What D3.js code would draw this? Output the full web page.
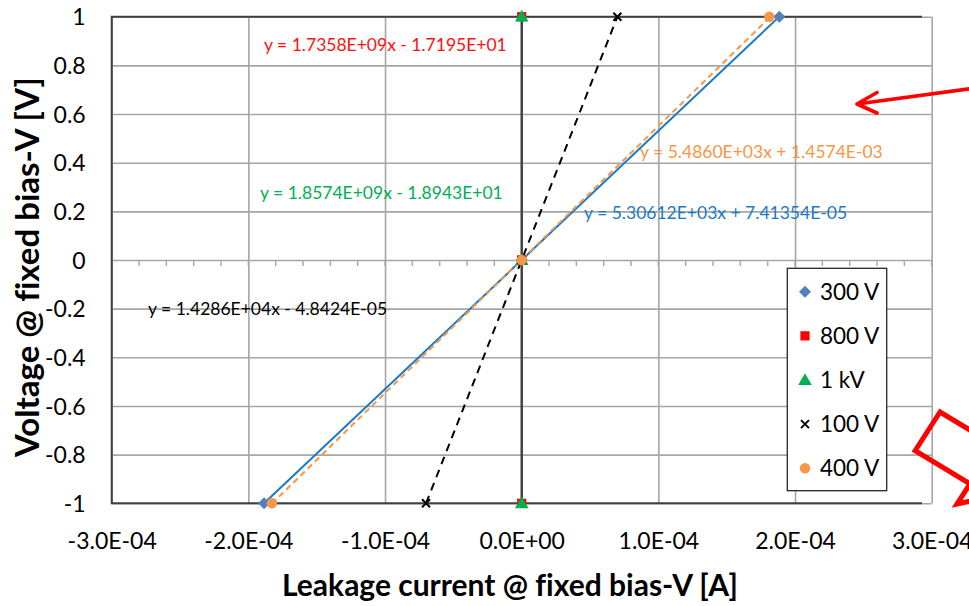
<!DOCTYPE html>
<html>
<head>
<meta charset="utf-8">
<script src="https://cdn.jsdelivr.net/npm/d3@7"></script>
<style>
  html, body { margin: 0; padding: 0; background: #ffffff; }
  svg { display: block; font-family: Lato, "Open Sans", sans-serif; font-variant-ligatures: none; }
</style>
</head>
<body>
<svg id="chart" width="969" height="606"></svg>
<script>
// Voltage applied at each point (shared by all series)
const voltage = [-1, 0, 1];

// Leakage current measured per bias setting [A]
const current300 = [-1.885e-4, 0, 1.885e-4];
const current800 = [9.330e-9, 9.906e-9, 1.0482e-8];
const current1k  = [9.660e-9, 1.0199e-8, 1.0737e-8];
const current100 = [-7.0e-5, 0, 7.0e-5];
const current400 = [-1.828e-4, 0, 1.812e-4];

const seriesNames = ["300 V", "800 V", "1 kV", "100 V", "400 V"];

// Linear trendline coefficients y = m*x + b and digits shown in the label
const fitSlopes     = [5.30612e3, 1.7358e9, 1.8574e9, 1.4286e4, 5.4860e3];
const fitIntercepts = [7.41354e-5, -1.7195e1, -1.8943e1, -4.8424e-5, 1.4574e-3];
const fitDigits     = [5, 4, 4, 4, 4];

// Axis ticks
const xTicks = [-3e-4, -2e-4, -1e-4, 0, 1e-4, 2e-4, 3e-4];
const yTicks = [-1, -0.8, -0.6, -0.4, -0.2, 0, 0.2, 0.4, 0.6, 0.8, 1];

const currents = [current300, current800, current1k, current100, current400];

// ---- styling / layout ----
const styles = [
  { marker: "diamond",  mcolor: "#4f81bd", lcolor: "#1a7ac6", dash: null,  tcolor: "#1a7ac6", lw: 2 },
  { marker: "square",   mcolor: "#ff0000", lcolor: "#ff0000", dash: null,  tcolor: "#ff1010", lw: 1.2 },
  { marker: "triangle", mcolor: "#00b050", lcolor: "#00b050", dash: null,  tcolor: "#00b050", lw: 1.2 },
  { marker: "cross",    mcolor: "#000000", lcolor: "#000000", dash: "8,6", tcolor: "#000000", lw: 2 },
  { marker: "circle",   mcolor: "#f79646", lcolor: "#f79646", dash: "6,4", tcolor: "#f79646", lw: 2 }
];
// equation label anchor (left x, middle y) in pixels
const eqPos = [[584, 213], [264, 45], [260, 193], [148, 309], [640, 152]];

const svg = d3.select("#chart");
const plotLeft = 111.7, plotRight = 931.7, plotTop = 16.7, plotBottom = 503.3;

const x = d3.scaleLinear().domain([-3e-4, 3e-4]).range([plotLeft, plotRight]);
const y = d3.scaleLinear().domain([-1, 1]).range([plotBottom, plotTop]);

// scientific format like 1.0E-04
function sci(v, d) {
  if (v === 0) return (0).toFixed(d) + "E+00";
  const s = v.toExponential(d).toUpperCase();
  const [mant, exp] = s.split("E");
  const sign = exp[0] === "-" ? "-" : "+";
  const digits = exp.replace(/[+-]/, "").padStart(2, "0");
  return mant + "E" + sign + digits;
}

const gridColor = "#a6a6a6";
const darkColor = "#404040";

// gridlines
svg.append("g")
  .attr("transform", `translate(0,${plotBottom})`)
  .call(d3.axisBottom(x).tickValues(xTicks).tickSize(-(plotBottom - plotTop)).tickFormat(""))
  .call(g => g.select(".domain").remove())
  .call(g => g.selectAll("line").attr("stroke", gridColor).attr("stroke-width", 1.6));

svg.append("g")
  .attr("transform", `translate(${plotLeft},0)`)
  .call(d3.axisLeft(y).tickValues(yTicks).tickSize(-(plotRight - plotLeft)).tickFormat(""))
  .call(g => g.select(".domain").remove())
  .call(g => g.selectAll("line").attr("stroke", gridColor).attr("stroke-width", 1.6));

// minor ticks on the horizontal zero axis
const minorTicks = d3.range(-15, 16).map(i => i * 2e-5);
svg.append("g").selectAll("line").data(minorTicks).join("line")
  .attr("x1", d => x(d)).attr("x2", d => x(d))
  .attr("y1", y(0)).attr("y2", y(0) + 6)
  .attr("stroke", gridColor).attr("stroke-width", 1.4);

// plot-area border (left, top, bottom)
const borderEnd = 922;
svg.append("path")
  .attr("d", `M${borderEnd},${plotTop}H${plotLeft}V${plotBottom}H${borderEnd}`)
  .attr("fill", "none").attr("stroke", darkColor).attr("stroke-width", 2);

// tick labels
const tickFont = 23;
svg.append("g")
  .attr("transform", `translate(0,${plotBottom})`)
  .call(d3.axisBottom(x).tickValues(xTicks).tickSize(0).tickFormat(d => sci(d, 1)))
  .call(g => g.select(".domain").remove())
  .call(g => g.selectAll("text")
    .attr("y", 38).attr("dy", "0.35em")
    .attr("font-size", tickFont).attr("font-family", "Lato, sans-serif").attr("fill", "#000"));

svg.append("g")
  .attr("transform", `translate(${plotLeft},0)`)
  .call(d3.axisLeft(y).tickValues(yTicks).tickSize(0).tickFormat(d => String(+d.toFixed(1))))
  .call(g => g.select(".domain").remove())
  .call(g => g.selectAll("text")
    .attr("x", -26).attr("dy", "0.35em")
    .attr("font-size", tickFont).attr("font-family", "Lato, sans-serif").attr("fill", "#000"));

// axis titles
svg.append("text")
  .attr("x", 510).attr("y", 585).attr("dy", "0.35em")
  .attr("text-anchor", "middle").attr("font-weight", "bold").attr("font-size", 30)
  .text("Leakage current @ fixed bias-V [A]");

svg.append("text")
  .attr("transform", "translate(27,267) rotate(-90)")
  .attr("dy", "0.35em")
  .attr("text-anchor", "middle").attr("font-weight", "bold").attr("font-size", 33)
  .text("Voltage @ fixed bias-V [V]");

// marker drawing helper
function drawMarker(sel, type, color, cx, cy) {
  const g = sel.append("g").attr("transform", `translate(${cx},${cy})`);
  if (type === "diamond") {
    g.append("path").attr("d", d3.symbol(d3.symbolSquare, 72)()).attr("transform", "rotate(45)").attr("fill", color);
  } else if (type === "square") {
    g.append("path").attr("d", d3.symbol(d3.symbolSquare, 85)()).attr("fill", color);
  } else if (type === "triangle") {
    g.append("path").attr("d", d3.symbol(d3.symbolTriangle, 80)()).attr("transform", "translate(0,1)").attr("fill", color);
  } else if (type === "circle") {
    g.append("circle").attr("r", 5.2).attr("fill", color);
  } else if (type === "cross") {
    g.append("path").attr("d", "M-4,-4L4,4M-4,4L4,-4").attr("stroke", color).attr("stroke-width", 2).attr("fill", "none");
  }
}

// trendlines over each series' current range
const lineLayer = svg.append("g");
currents.forEach((cur, i) => {
  const [x0, x1] = d3.extent(cur);
  const m = fitSlopes[i], b = fitIntercepts[i];
  lineLayer.append("line")
    .attr("x1", x(x0)).attr("y1", y(m * x0 + b))
    .attr("x2", x(x1)).attr("y2", y(m * x1 + b))
    .attr("stroke", styles[i].lcolor).attr("stroke-width", styles[i].lw)
    .attr("stroke-dasharray", styles[i].dash);
});

// vertical axis at zero current (drawn over the near-vertical fits)
svg.append("line")
  .attr("x1", x(0)).attr("x2", x(0)).attr("y1", plotTop).attr("y2", plotBottom)
  .attr("stroke", darkColor).attr("stroke-width", 2.4);

// series markers
const markLayer = svg.append("g");
currents.forEach((cur, i) => {
  cur.forEach((c, j) => drawMarker(markLayer, styles[i].marker, styles[i].mcolor, x(c), y(voltage[j])));
});

// trendline equations
currents.forEach((cur, i) => {
  const m = fitSlopes[i], b = fitIntercepts[i], d = fitDigits[i];
  const label = `y = ${sci(m, d)}x ${b < 0 ? "-" : "+"} ${sci(Math.abs(b), d)}`;
  svg.append("text")
    .attr("x", eqPos[i][0]).attr("y", eqPos[i][1]).attr("dy", "0.35em")
    .attr("font-size", 17.5).attr("fill", styles[i].tcolor)
    .text(label);
});

// legend
const lg = svg.append("g");
lg.append("rect")
  .attr("x", 787.3).attr("y", 268.3).attr("width", 99.4).attr("height", 222.4)
  .attr("fill", "#ffffff").attr("stroke", "#262626").attr("stroke-width", 1.3);
seriesNames.forEach((name, i) => {
  const cy = 291.7 + i * 44.15;
  drawMarker(lg, styles[i].marker, styles[i].mcolor, 805, cy);
  lg.append("text").attr("x", 820).attr("y", cy).attr("dy", "0.36em")
    .attr("font-size", 22.5).attr("fill", "#000").text(name);
});

// red call-out arrow pointing into the plot
const red = "#ff0000";
svg.append("path")
  .attr("d", "M975,88L857,104M877,92.5L857,104L877,113")
  .attr("fill", "none").attr("stroke", red).attr("stroke-width", 3.6)
  .attr("stroke-linecap", "round").attr("stroke-linejoin", "round");

// block arrow in the lower right corner
(function () {
  const A = [940, 412];
  const u = [0.856, 0.517];
  const n = [-0.54, 0.842];
  const w = 46, L = 64, wing = 24, head = 48;
  const p = (a, b) => [A[0] + u[0] * a + n[0] * b, A[1] + u[1] * a + n[1] * b];
  const pts = [p(0, 0), p(0, w), p(L, w), p(L, w + wing), p(L + head, w / 2), p(L, -wing), p(L, 0)];
  svg.append("polygon")
    .attr("points", pts.map(q => q.join(",")).join(" "))
    .attr("fill", "none").attr("stroke", red).attr("stroke-width", 5);
})();
</script>
</body>
</html>
